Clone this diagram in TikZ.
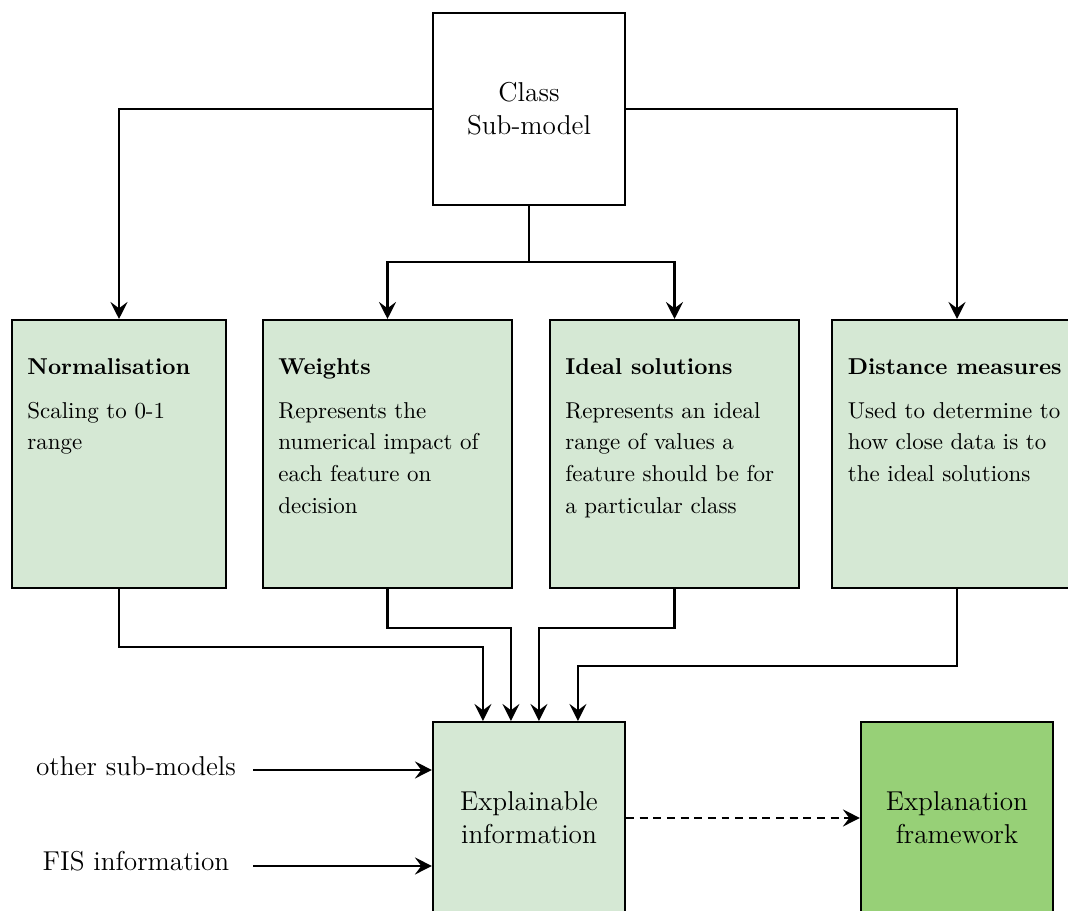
\documentclass[tikz,border=0pt]{standalone}
\usetikzlibrary{positioning,arrows.meta}
\definecolor{partfill}{HTML}{D5E8D4}
\definecolor{outfill}{HTML}{97D077}

\begin{document}
\begin{tikzpicture}[x=0.44pt,y=-0.44pt,
  sq/.style={draw,line width=0.9pt,minimum width=84.5pt,minimum height=84.5pt,
             align=center,font=\fontsize{12}{14.5}\selectfont},
  part/.style={draw,fill=partfill,line width=0.9pt,minimum width=109.6pt,minimum height=117.9pt},
  txt/.style={anchor=north west,inner sep=0pt,align=left,font=\fontsize{10.1}{13.9}\selectfont},
  lbl/.style={font=\fontsize{12}{14.5}\selectfont},
  a/.style={-{Stealth[length=7.5pt,width=7.5pt,inset=2.8pt]},line width=0.9pt}]
  \useasboundingbox (0,0) rectangle (1068,911);
  % top and middle row
  \node[sq] (cls) at (529,109) {Class\\Sub-model};
  \node[part,minimum width=94.2pt] (norm) at (119,454) {};
  \node[part] (wts) at (387.5,454) {};
  \node[part] (ideal) at (674.5,454) {};
  \node[part] (dist) at (957,454) {};
  \node[txt] (normtxt) at ([shift={(16,39)}]norm.north west)
    {\textbf{Normalisation}\\[5.4pt] Scaling to 0-1\\ range};
  \node[txt] (wtstxt) at ([shift={(16,39)}]wts.north west)
    {\textbf{Weights}\\[5.4pt] Represents the\\ numerical impact of\\ each feature on\\ decision};
  \node[txt] (idealtxt) at ([shift={(16,39)}]ideal.north west)
    {\textbf{Ideal solutions}\\[5.4pt] Represents an ideal\\ range of values a\\ feature should be for\\ a particular class};
  \node[txt] (disttxt) at ([shift={(16,39)}]dist.north west)
    {\textbf{Distance measures}\\[5.4pt] Used to determine to\\ how close data is to\\ the ideal solutions};
  % bottom row
  \node[sq,fill=partfill] (expl) at (529,818) {Explainable\\information};
  \node[sq,fill=outfill] (frame) at (957,818) {Explanation\\framework};
  \node[lbl] (osm) at (136,766) {other sub-models};
  \node[lbl] (fis) at (136,861) {FIS information};
  % connectors
  \coordinate (split) at (529,262);
  \draw[a] (cls.west) -| (norm.north);
  \draw[a] (cls.east) -| (dist.north);
  \draw[a] (cls.south) -- (split) -| (wts.north);
  \draw[a] (split) -| (ideal.north);
  \coordinate (in1) at ([shift={(51,0)}]expl.north west);
  \coordinate (in2) at ([shift={(79,0)}]expl.north west);
  \coordinate (in3) at ([shift={(107,0)}]expl.north west);
  \coordinate (in4) at ([shift={(146,0)}]expl.north west);
  \draw[a] (norm.south) -- ++(0,58) -| (in1);
  \draw[a] (wts.south) -- ++(0,39) -| (in2);
  \draw[a] (ideal.south) -- ++(0,39) -| (in3);
  \draw[a] (dist.south) -- ++(0,77) -| (in4);
  \coordinate (st1) at (253,770);
  \coordinate (st2) at (253,866);
  \draw[a] (st1) -- (st1 -| expl.west);
  \draw[a] (st2) -- (st2 -| expl.west);
  \draw[a,dash pattern=on 3.5pt off 2.5pt] (expl) -- (frame);
\end{tikzpicture}
\end{document}
